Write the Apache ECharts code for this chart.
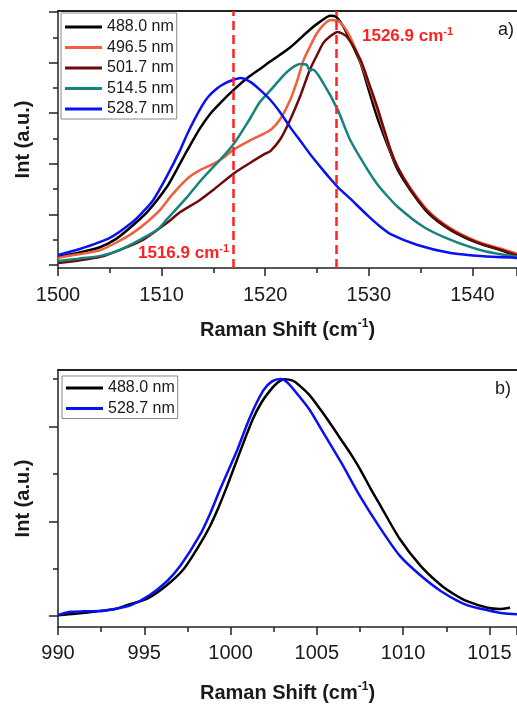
<!DOCTYPE html>
<html>
<head>
<meta charset="utf-8">
<script src="https://cdn.jsdelivr.net/npm/echarts@6/dist/echarts.min.js"></script>
<style>
html,body{margin:0;padding:0;background:#fff;}
#chart{width:517px;height:704px;}
</style>
</head>
<body>
<div id="chart"></div>
<script>
// ---------- DATA ----------
const legendTop = ['488.0 nm', '496.5 nm', '501.7 nm', '514.5 nm', '528.7 nm'];
const legendBottom = ['488.0 nm', '528.7 nm'];
const peakLines = [1516.9, 1526.9];

const top488 = [[1500.0,0.032],[1502.0,0.048],[1504.1,0.071],[1505.5,0.10],[1506.7,0.138],[1508.6,0.209],[1510.5,0.308],[1511.5,0.38],[1512.5,0.455],[1513.7,0.54],[1514.7,0.598],[1515.7,0.642],[1516.9,0.69],[1518.3,0.74],[1519.5,0.775],[1520.5,0.805],[1522.4,0.86],[1524.3,0.93],[1525.3,0.962],[1526.3,0.985],[1526.8,0.982],[1527.5,0.945],[1528.3,0.88],[1529.2,0.798],[1530.0,0.69],[1530.8,0.585],[1532.1,0.443],[1532.8,0.375],[1534.0,0.296],[1535.7,0.206],[1537.9,0.138],[1540.5,0.087],[1542.7,0.059],[1544.3,0.036]];
const top4965 = [[1500.0,0.028],[1502.0,0.042],[1504.1,0.059],[1505.7,0.09],[1507.2,0.126],[1508.6,0.17],[1509.9,0.22],[1511.0,0.277],[1512.5,0.342],[1513.7,0.375],[1515.0,0.40],[1516.0,0.425],[1516.9,0.455],[1518.6,0.494],[1520.5,0.534],[1521.5,0.58],[1522.4,0.652],[1523.1,0.73],[1523.7,0.81],[1524.4,0.87],[1525.0,0.917],[1525.7,0.952],[1526.3,0.968],[1527.2,0.960],[1528.2,0.901],[1529.5,0.771],[1530.8,0.613],[1532.1,0.450],[1532.8,0.385],[1534.0,0.305],[1535.7,0.215],[1537.9,0.145],[1540.5,0.092],[1542.7,0.065],[1544.3,0.045]];
const top5017 = [[1500.0,0.008],[1502.0,0.018],[1504.1,0.032],[1506.0,0.06],[1508.2,0.099],[1510.5,0.166],[1511.8,0.209],[1513.7,0.257],[1515.0,0.297],[1516.9,0.36],[1518.6,0.405],[1520.0,0.44],[1520.5,0.45],[1521.5,0.50],[1522.4,0.573],[1523.4,0.67],[1524.3,0.771],[1525.0,0.83],[1525.6,0.877],[1526.3,0.905],[1527.0,0.921],[1527.9,0.901],[1529.2,0.810],[1530.0,0.72],[1530.8,0.625],[1532.1,0.455],[1532.8,0.385],[1534.0,0.30],[1535.7,0.21],[1537.9,0.14],[1540.5,0.088],[1542.7,0.06],[1544.3,0.038]];
const top5145 = [[1500.0,0.016],[1502.0,0.025],[1504.1,0.036],[1506.0,0.06],[1507.9,0.099],[1509.6,0.14],[1510.5,0.18],[1511.5,0.225],[1512.5,0.27],[1513.7,0.33],[1514.7,0.375],[1515.7,0.418],[1516.9,0.475],[1518.4,0.57],[1519.5,0.645],[1520.5,0.69],[1522.1,0.763],[1523.4,0.794],[1524.0,0.791],[1524.3,0.768],[1524.6,0.773],[1525.6,0.719],[1527.0,0.613],[1528.2,0.494],[1529.9,0.375],[1530.8,0.32],[1531.4,0.29],[1532.8,0.229],[1535.3,0.150],[1537.9,0.099],[1541.1,0.055],[1544.3,0.032]];
const top5287 = [[1500.0,0.040],[1502.1,0.063],[1505.0,0.107],[1507.2,0.17],[1508.2,0.21],[1509.2,0.257],[1510.5,0.35],[1511.8,0.455],[1512.5,0.52],[1513.7,0.615],[1514.5,0.665],[1515.4,0.700],[1516.2,0.72],[1516.9,0.731],[1517.6,0.739],[1518.6,0.723],[1519.5,0.692],[1520.5,0.652],[1521.5,0.60],[1522.4,0.545],[1523.4,0.49],[1524.3,0.44],[1525.6,0.374],[1526.3,0.340],[1527.0,0.308],[1528.2,0.262],[1529.9,0.195],[1531.0,0.155],[1532.1,0.122],[1534.7,0.079],[1537.9,0.047],[1541.1,0.034],[1544.3,0.028]];

const bot488 = [[990.0,0.004],[991.0,0.01],[992.4,0.021],[993.3,0.03],[994.0,0.046],[995.2,0.075],[996.3,0.13],[997.3,0.20],[998.2,0.30],[998.8,0.378],[999.3,0.458],[999.8,0.548],[1000.6,0.703],[1001.3,0.832],[1001.8,0.902],[1002.3,0.952],[1002.7,0.983],[1003.1,0.999],[1003.6,0.993],[1004.0,0.972],[1004.6,0.93],[1005.2,0.872],[1005.8,0.81],[1006.4,0.745],[1007.0,0.68],[1007.5,0.62],[1008.1,0.54],[1008.7,0.464],[1009.8,0.326],[1011.0,0.213],[1012.2,0.130],[1013.0,0.09],[1013.7,0.063],[1014.9,0.035],[1015.6,0.030],[1016.2,0.035]];
const bot5287 = [[990.0,0.004],[990.7,0.018],[991.5,0.02],[992.4,0.021],[993.3,0.03],[994.2,0.045],[995.3,0.088],[996.3,0.146],[997.1,0.213],[998.2,0.339],[998.8,0.43],[999.4,0.536],[1000.4,0.703],[1001.1,0.835],[1001.9,0.952],[1002.4,0.99],[1002.9,1.0],[1003.3,0.985],[1004.0,0.925],[1004.6,0.868],[1005.2,0.795],[1006.4,0.649],[1007.5,0.506],[1008.7,0.368],[1009.8,0.255],[1011.0,0.172],[1012.2,0.105],[1013.7,0.046],[1014.9,0.025],[1015.8,0.012],[1016.6,0.008]];

const topMajorY = [0, 0.2, 0.4, 0.6, 0.8, 1.0];
const topMinorY = [0.1, 0.3, 0.5, 0.7, 0.9];
const botMajorY = [0, 0.4, 0.8];
const botMinorY = [0.2, 0.6, 1.0];

// ---------- STYLE ----------
const FONT = "'Liberation Sans', Arial, sans-serif";
const AX = '#222';
const colors = {'488.0 nm':'#000000','496.5 nm':'#f0603f','501.7 nm':'#6e0a0a','514.5 nm':'#15837f','528.7 nm':'#0a10f5'};
const RED = '#ff2222';

function xAxisMain(grid, min, max, interval, nameGap, labelMargin) {
  return {
    type:'value', gridIndex:grid, min:min, max:max, interval:interval, position:'bottom',
    axisLine:{show:true, onZero:false, lineStyle:{color:AX, width:1.5}},
    axisTick:{show:true, length:8, lineStyle:{color:AX, width:1.5}},
    minorTick:{show:true, splitNumber:2, length:5, lineStyle:{color:AX, width:1.5}},
    splitLine:{show:false}, minorSplitLine:{show:false},
    axisLabel:{show:true, fontFamily:FONT, fontSize:20, color:'#1a1a1a', margin:labelMargin,
      formatter: v => String(v)},
    name:'{a|Raman Shift (cm}{s|-1}{a|)}', nameLocation:'middle', nameGap:nameGap,
    nameTextStyle:{rich:{a:{fontFamily:FONT, fontSize:20, fontWeight:'bold', color:'#1a1a1a', lineHeight:24},
                         s:{fontFamily:FONT, fontSize:12, fontWeight:'bold', color:'#1a1a1a', verticalAlign:'top', lineHeight:12}}}
  };
}
function xAxisTopBorder(grid, min, max) {
  return {type:'value', gridIndex:grid, min:min, max:max, position:'top',
    axisLine:{show:true, onZero:false, lineStyle:{color:AX, width:2}},
    axisTick:{show:false}, axisLabel:{show:false}, splitLine:{show:false}};
}
function yAxisTicks(grid, min, max, ticks, len, withLine, withName) {
  const a = {type:'value', gridIndex:grid, min:min, max:max, position:'left',
    axisLine:{show:withLine, onZero:false, lineStyle:{color:AX, width:1.5}},
    axisTick:{show:true, length:len, customValues:ticks, lineStyle:{color:AX, width:1.5}},
    axisLabel:{show:false}, splitLine:{show:false}};
  if (withName) {
    a.name = 'Int (a.u.)'; a.nameLocation = 'middle'; a.nameGap = 25;
    a.nameTextStyle = {fontFamily:FONT, fontSize:20, fontWeight:'bold', color:'#1a1a1a'};
  }
  return a;
}
function lineSeries(name, data, xi, yi) {
  return {type:'line', name:name, data:data, xAxisIndex:xi, yAxisIndex:yi,
    showSymbol:false, symbol:'none', smooth:0.25,
    lineStyle:{color:colors[name], width:2.5}, itemStyle:{color:colors[name]}};
}

const chart = echarts.init(document.getElementById('chart'), null, {renderer:'canvas'});
const topSeries = [
  lineSeries('488.0 nm', top488, 0, 0),
  lineSeries('496.5 nm', top4965, 0, 0),
  lineSeries('501.7 nm', top5017, 0, 0),
  lineSeries('514.5 nm', top5145, 0, 0),
  lineSeries('528.7 nm', top5287, 0, 0)
];
topSeries[4].markLine = {silent:true, symbol:'none', animation:false,
  label:{show:false}, lineStyle:{color:RED, width:2.5, type:[9,5]},
  data: peakLines.map(v => ({xAxis:v}))};
const botSeries = [
  lineSeries('488.0 nm', bot488, 2, 2),
  lineSeries('528.7 nm', bot5287, 2, 2)
];

const legendCommon = {orient:'vertical', icon:'rect', itemWidth:37, itemHeight:3, itemGap:4.5,
  textStyle:{fontFamily:FONT, fontSize:16, color:'#1a1a1a', lineHeight:16},
  backgroundColor:'#fff', borderColor:'#8a8a8a', borderWidth:1, borderRadius:0};

chart.setOption({
  animation:false,
  backgroundColor:'#fff',
  grid:[
    {left:58, top:11, width:459, height:257, containLabel:false},
    {left:58, top:370, width:459, height:259, containLabel:false}
  ],
  xAxis:[
    xAxisMain(0, 1500, 1544.3, 10, 50, 17),
    xAxisTopBorder(0, 1500, 1544.3),
    xAxisMain(1, 990, 1016.6, 5, 54, 16),
    xAxisTopBorder(1, 990, 1016.6)
  ],
  yAxis:[
    yAxisTicks(0, -0.012, 1.004, topMajorY, 9, true, true),
    yAxisTicks(0, -0.012, 1.004, topMinorY, 5, false, false),
    yAxisTicks(1, -0.046, 1.038, botMajorY, 9, true, true),
    yAxisTicks(1, -0.046, 1.038, botMinorY, 5, false, false)
  ],
  legend:[
    Object.assign({}, legendCommon, {left:61, top:13, padding:[6,3,2,4], data:legendTop}),
    Object.assign({}, legendCommon, {left:62, top:376, padding:[4,3,2,4], data:legendBottom})
  ],
  graphic:[
    {type:'text', left:362, top:26, style:{text:'{a|1526.9 cm}{s|-1}', fill:RED,
      rich:{a:{fontFamily:FONT, fontSize:17, fontWeight:'bold', fill:RED, lineHeight:20},
            s:{fontFamily:FONT, fontSize:11, fontWeight:'bold', fill:RED, verticalAlign:'top', lineHeight:11}}}},
    {type:'text', left:138, top:243, style:{text:'{a|1516.9 cm}{s|-1}', fill:RED,
      rich:{a:{fontFamily:FONT, fontSize:17, fontWeight:'bold', fill:RED, lineHeight:20},
            s:{fontFamily:FONT, fontSize:11, fontWeight:'bold', fill:RED, verticalAlign:'top', lineHeight:11}}}},
    {type:'text', left:498, top:21, style:{text:'a)', fill:'#1a1a1a', font:"18px 'Liberation Sans', Arial, sans-serif"}},
    {type:'text', left:495, top:380, style:{text:'b)', fill:'#1a1a1a', font:"18px 'Liberation Sans', Arial, sans-serif"}}
  ],
  series: topSeries.concat(botSeries)
});
</script>
</body>
</html>
